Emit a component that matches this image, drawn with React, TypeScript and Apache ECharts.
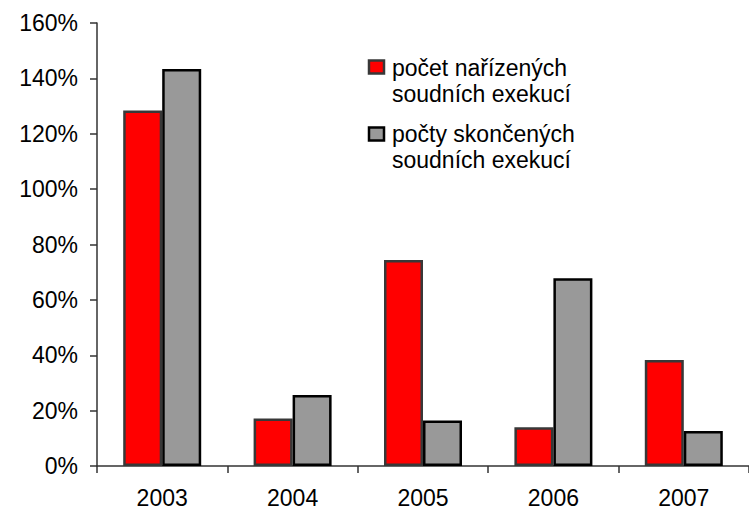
import React, { useEffect, useRef } from "react";
import * as echarts from "echarts";

const categories = ["2003", "2004", "2005", "2006", "2007"];
const orderedValues = [128.4, 17.2, 74.4, 14.0, 38.3];
const finishedValues = [143.4, 25.6, 16.4, 67.8, 12.6];
const seriesNames = ["počet nařízených\nsoudních exekucí", "počty skončených\nsoudních exekucí"];

const FONT = "'Liberation Sans', Arial, sans-serif";

export default function App() {
  const ref = useRef<HTMLDivElement>(null);
  useEffect(() => {
    if (!ref.current) return;
    const chart = echarts.init(ref.current, null, { renderer: "svg" });
    chart.setOption({
      animation: false,
      backgroundColor: "#ffffff",
      grid: { left: 97, top: 23, width: 656, height: 443, containLabel: false },
      xAxis: {
        type: "category",
        data: categories,
        axisLine: { show: true, lineStyle: { color: "#333", width: 1.5 } },
        axisTick: { show: true, length: 7, alignWithLabel: false, lineStyle: { color: "#333", width: 1.5 } },
        axisLabel: { color: "#000", fontSize: 23, fontFamily: FONT, margin: 20 },
        splitLine: { show: false },
      },
      yAxis: {
        type: "value",
        min: 0,
        max: 160,
        interval: 20,
        axisLine: { show: true, lineStyle: { color: "#333", width: 1.5 } },
        axisTick: { show: true, length: 7, inside: false, lineStyle: { color: "#333", width: 1.5 } },
        axisLabel: { color: "#000", fontSize: 23, fontFamily: FONT, margin: 19, formatter: "{value}%" },
        splitLine: { show: false },
      },
      series: [
        {
          name: seriesNames[0],
          type: "bar",
          data: orderedValues,
          barWidth: 39,
          barGap: "0%",
          itemStyle: { color: "#ff0000", borderColor: "#383838", borderWidth: 2.5 },
        },
        {
          name: seriesNames[1],
          type: "bar",
          data: finishedValues,
          barWidth: 39,
          barGap: "0%",
          itemStyle: { color: "#999999", borderColor: "#000000", borderWidth: 2.5 },
        },
      ],
      graphic: [
        {
          type: "rect",
          shape: { x: 369, y: 60.5, width: 15, height: 13 },
          style: { fill: "#ff0000", stroke: "#383838", lineWidth: 2.5 },
        },
        {
          type: "text",
          x: 392,
          y: 55,
          style: {
            text: seriesNames[0],
            fill: "#000",
            font: `23px ${FONT}`,
            lineHeight: 26,
            textAlign: "left",
            textVerticalAlign: "top",
          },
        },
        {
          type: "rect",
          shape: { x: 369, y: 127.5, width: 15, height: 13 },
          style: { fill: "#999999", stroke: "#000000", lineWidth: 2.5 },
        },
        {
          type: "text",
          x: 392,
          y: 121,
          style: {
            text: seriesNames[1],
            fill: "#000",
            font: `23px ${FONT}`,
            lineHeight: 26,
            textAlign: "left",
            textVerticalAlign: "top",
          },
        },
      ],
    });
    return () => chart.dispose();
  }, []);
  return (
    <div
      ref={ref}
      style={{ position: "absolute", left: 0, top: 0, width: 749, height: 511, background: "#fff" }}
    />
  );
}
